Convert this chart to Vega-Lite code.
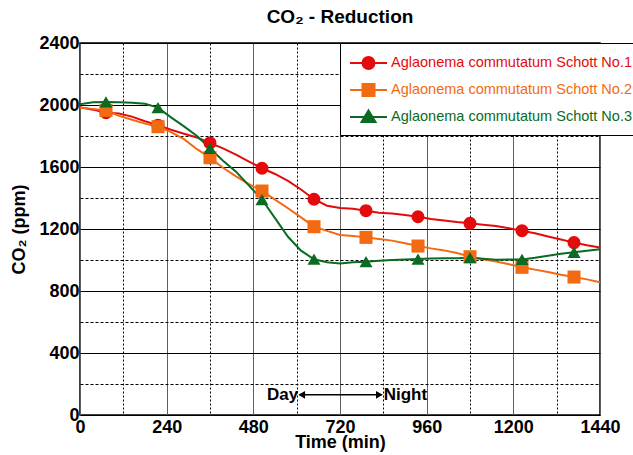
{
  "$schema": "https://vega.github.io/schema/vega-lite/v6.json",
  "autosize": "none",
  "width": 520,
  "height": 372,
  "padding": {"left": 80, "top": 43, "right": 33, "bottom": 40},
  "background": "white",
  "config": {
    "view": {"stroke": "black", "strokeWidth": 1.5},
    "font": "Liberation Sans"
  },
  "title": {
    "text": "CO₂ - Reduction",
    "font": "Liberation Sans",
    "fontSize": 19,
    "fontWeight": "bold",
    "color": "black",
    "anchor": "middle",
    "offset": 7
  },
  "datasets": {
    "co2": [
      {"s":"No.1","t":0,"v":1985},{"s":"No.1","t":36,"v":1970},{"s":"No.1","t":72,"v":1950},{"s":"No.1","t":108,"v":1945},{"s":"No.1","t":144,"v":1925},{"s":"No.1","t":180,"v":1895},{"s":"No.1","t":216,"v":1870},{"s":"No.1","t":252,"v":1840},{"s":"No.1","t":288,"v":1815},{"s":"No.1","t":324,"v":1790},{"s":"No.1","t":360,"v":1755},{"s":"No.1","t":396,"v":1720},{"s":"No.1","t":432,"v":1680},{"s":"No.1","t":468,"v":1635},{"s":"No.1","t":504,"v":1592},{"s":"No.1","t":540,"v":1555},{"s":"No.1","t":576,"v":1510},{"s":"No.1","t":612,"v":1455},{"s":"No.1","t":648,"v":1392},{"s":"No.1","t":684,"v":1350},{"s":"No.1","t":720,"v":1335},{"s":"No.1","t":756,"v":1330},{"s":"No.1","t":792,"v":1318},{"s":"No.1","t":828,"v":1305},{"s":"No.1","t":864,"v":1300},{"s":"No.1","t":900,"v":1290},{"s":"No.1","t":936,"v":1279},{"s":"No.1","t":972,"v":1265},{"s":"No.1","t":1008,"v":1255},{"s":"No.1","t":1044,"v":1245},{"s":"No.1","t":1080,"v":1237},{"s":"No.1","t":1116,"v":1228},{"s":"No.1","t":1152,"v":1220},{"s":"No.1","t":1188,"v":1205},{"s":"No.1","t":1224,"v":1189},{"s":"No.1","t":1260,"v":1172},{"s":"No.1","t":1296,"v":1152},{"s":"No.1","t":1332,"v":1132},{"s":"No.1","t":1368,"v":1112},{"s":"No.1","t":1404,"v":1095},{"s":"No.1","t":1440,"v":1080},
      {"s":"No.2","t":0,"v":1982},{"s":"No.2","t":36,"v":1975},{"s":"No.2","t":72,"v":1965},{"s":"No.2","t":108,"v":1930},{"s":"No.2","t":144,"v":1905},{"s":"No.2","t":180,"v":1880},{"s":"No.2","t":216,"v":1860},{"s":"No.2","t":252,"v":1825},{"s":"No.2","t":288,"v":1780},{"s":"No.2","t":324,"v":1715},{"s":"No.2","t":360,"v":1660},{"s":"No.2","t":396,"v":1595},{"s":"No.2","t":432,"v":1540},{"s":"No.2","t":468,"v":1490},{"s":"No.2","t":504,"v":1445},{"s":"No.2","t":540,"v":1390},{"s":"No.2","t":576,"v":1334},{"s":"No.2","t":612,"v":1275},{"s":"No.2","t":648,"v":1215},{"s":"No.2","t":684,"v":1188},{"s":"No.2","t":720,"v":1162},{"s":"No.2","t":756,"v":1155},{"s":"No.2","t":792,"v":1146},{"s":"No.2","t":828,"v":1135},{"s":"No.2","t":864,"v":1125},{"s":"No.2","t":900,"v":1108},{"s":"No.2","t":936,"v":1090},{"s":"No.2","t":972,"v":1075},{"s":"No.2","t":1008,"v":1062},{"s":"No.2","t":1044,"v":1045},{"s":"No.2","t":1080,"v":1021},{"s":"No.2","t":1116,"v":1005},{"s":"No.2","t":1152,"v":990},{"s":"No.2","t":1188,"v":972},{"s":"No.2","t":1224,"v":953},{"s":"No.2","t":1260,"v":938},{"s":"No.2","t":1296,"v":922},{"s":"No.2","t":1332,"v":905},{"s":"No.2","t":1368,"v":890},{"s":"No.2","t":1404,"v":875},{"s":"No.2","t":1440,"v":857},
      {"s":"No.3","t":0,"v":2005},{"s":"No.3","t":36,"v":2018},{"s":"No.3","t":72,"v":2020},{"s":"No.3","t":108,"v":2018},{"s":"No.3","t":144,"v":2015},{"s":"No.3","t":180,"v":2008},{"s":"No.3","t":216,"v":1983},{"s":"No.3","t":252,"v":1920},{"s":"No.3","t":288,"v":1862},{"s":"No.3","t":324,"v":1800},{"s":"No.3","t":360,"v":1720},{"s":"No.3","t":396,"v":1640},{"s":"No.3","t":432,"v":1570},{"s":"No.3","t":468,"v":1480},{"s":"No.3","t":504,"v":1390},{"s":"No.3","t":540,"v":1270},{"s":"No.3","t":576,"v":1150},{"s":"No.3","t":612,"v":1060},{"s":"No.3","t":648,"v":1005},{"s":"No.3","t":684,"v":985},{"s":"No.3","t":720,"v":978},{"s":"No.3","t":756,"v":985},{"s":"No.3","t":792,"v":989},{"s":"No.3","t":828,"v":995},{"s":"No.3","t":864,"v":1000},{"s":"No.3","t":900,"v":1003},{"s":"No.3","t":936,"v":1006},{"s":"No.3","t":972,"v":1009},{"s":"No.3","t":1008,"v":1012},{"s":"No.3","t":1044,"v":1012},{"s":"No.3","t":1080,"v":1015},{"s":"No.3","t":1116,"v":1008},{"s":"No.3","t":1152,"v":1002},{"s":"No.3","t":1188,"v":1003},{"s":"No.3","t":1224,"v":1004},{"s":"No.3","t":1260,"v":1015},{"s":"No.3","t":1296,"v":1028},{"s":"No.3","t":1332,"v":1040},{"s":"No.3","t":1368,"v":1050},{"s":"No.3","t":1404,"v":1060},{"s":"No.3","t":1440,"v":1070}
    ]
  },
  "encoding": {
    "x": {
      "field": "t", "type": "quantitative",
      "scale": {"domain": [0, 1440], "nice": false, "zero": false},
      "axis": {
        "title": "Time (min)",
        "values": [0,120,240,360,480,600,720,840,960,1080,1200,1320,1440],
        "format": "d",
        "labelExpr": "datum.value % 240 === 0 ? datum.label : ''",
        "labelFlush": false, "labelOverlap": false,
        "grid": true,
        "gridColor": {"condition": {"test": "datum.value % 240 === 0", "value": "#606060"}, "value": "black"},
        "gridDash": {"condition": {"test": "datum.value % 240 === 0", "value": []}, "value": [2, 2]},
        "gridWidth": 1,
        "ticks": false, "domain": false,
        "labelFont": "Liberation Sans", "labelFontSize": 18, "labelFontWeight": "bold", "labelColor": "black", "labelPadding": 3,
        "titleFont": "Liberation Sans", "titleFontSize": 18, "titleFontWeight": "bold", "titleColor": "black", "titlePadding": -3
      }
    },
    "y": {
      "field": "v", "type": "quantitative",
      "scale": {"domain": [0, 2400], "nice": false},
      "axis": {
        "title": "CO₂ (ppm)",
        "values": [0,200,400,600,800,1000,1200,1400,1600,1800,2000,2200,2400],
        "format": "d",
        "labelExpr": "datum.value % 400 === 0 ? datum.label : ''",
        "labelFlush": false, "labelOverlap": false,
        "grid": true,
        "gridColor": "black",
        "gridDash": {"condition": {"test": "datum.value % 400 === 0", "value": []}, "value": [3, 2]},
        "gridWidth": 1,
        "ticks": false, "domain": false,
        "labelFont": "Liberation Sans", "labelFontSize": 18, "labelFontWeight": "bold", "labelColor": "black", "labelPadding": 1,
        "titleFont": "Liberation Sans", "titleFontSize": 18, "titleFontWeight": "bold", "titleColor": "black", "titlePadding": 10
      }
    }
  },
  "layer": [
    {
      "data": {"name": "co2"},
      "mark": {"type": "line", "strokeWidth": 2},
      "encoding": {
        "color": {
          "field": "s", "type": "nominal",
          "scale": {"domain": ["No.1", "No.2", "No.3"], "range": ["#e30b0b", "#f26a12", "#0b6b22"]},
          "legend": {
            "orient": "none", "legendX": 260, "legendY": 0,
            "title": null,
            "strokeColor": "black", "fillColor": "white", "padding": 9,
            "labelExpr": "'Aglaonema commutatum Schott ' + datum.label",
            "labelFont": "Liberation Sans", "labelFontSize": 14.5, "labelLimit": 400,
            "labelOffset": 20, "rowPadding": 6, "symbolSize": 400, "symbolStrokeWidth": 2,
            "encode": {
              "symbols": {"update": {
                "shape": {"signal": "datum.value === 'No.1' ? 'M-1,0H2.7M0.25,0A0.6,0.6 0 1 1 1.45,0A0.6,0.6 0 1 1 0.25,0Z' : datum.value === 'No.2' ? 'M-1,0H2.7M0.25,-0.6H1.45V0.6H0.25Z' : 'M-1,0H2.7M0.85,-0.65L1.55,0.5H0.15Z'"},
                "fill": {"scale": "color", "field": "value"},
                "stroke": {"scale": "color", "field": "value"},
                "strokeWidth": {"value": 2},
                "opacity": {"value": 1},
                "fillOpacity": {"value": 1}
              }},
              "labels": {"update": {"fill": {"scale": "color", "field": "value"}}}
            }
          }
        }
      }
    },
    {
      "data": {"name": "co2"},
      "transform": [{"filter": "datum.s === 'No.1' && (datum.t - 72) % 144 === 0"}],
      "mark": {"type": "point", "shape": "circle", "filled": true, "size": 170, "opacity": 1},
      "encoding": {"color": {"field": "s", "type": "nominal", "legend": null}}
    },
    {
      "data": {"name": "co2"},
      "transform": [{"filter": "datum.s === 'No.2' && (datum.t - 72) % 144 === 0"}],
      "mark": {"type": "point", "shape": "square", "filled": true, "size": 170, "opacity": 1},
      "encoding": {"color": {"field": "s", "type": "nominal", "legend": null}}
    },
    {
      "data": {"name": "co2"},
      "transform": [{"filter": "datum.s === 'No.3' && (datum.t - 72) % 144 === 0"}],
      "mark": {"type": "point", "shape": "triangle-up", "filled": true, "size": 170, "opacity": 1},
      "encoding": {"color": {"field": "s", "type": "nominal", "legend": null}}
    },
    {
      "data": {"values": [{"t": 720}]},
      "mark": {"type": "rule", "color": "black", "strokeWidth": 2},
      "encoding": {"y": {"datum": 0}, "y2": {"datum": 2400}}
    },
    {
      "data": {"values": [{"t": 608, "t2": 835, "v": 130}]},
      "mark": {"type": "rule", "color": "black", "strokeWidth": 1.5},
      "encoding": {"x2": {"field": "t2"}}
    },
    {
      "data": {"values": [{"t": 614, "v": 130}]},
      "mark": {"type": "point", "shape": "triangle-left", "filled": true, "color": "black", "size": 60, "opacity": 1},
      "encoding": {}
    },
    {
      "data": {"values": [{"t": 829, "v": 130}]},
      "mark": {"type": "point", "shape": "triangle-right", "filled": true, "color": "black", "size": 60, "opacity": 1},
      "encoding": {}
    },
    {
      "data": {"values": [{"t": 604, "v": 130, "label": "Day"}]},
      "mark": {"type": "text", "align": "right", "baseline": "middle", "font": "Liberation Sans", "fontSize": 17, "fontWeight": "bold", "color": "black"},
      "encoding": {"text": {"field": "label"}}
    },
    {
      "data": {"values": [{"t": 841, "v": 130, "label": "Night"}]},
      "mark": {"type": "text", "align": "left", "baseline": "middle", "font": "Liberation Sans", "fontSize": 17, "fontWeight": "bold", "color": "black"},
      "encoding": {"text": {"field": "label"}}
    }
  ]
}
